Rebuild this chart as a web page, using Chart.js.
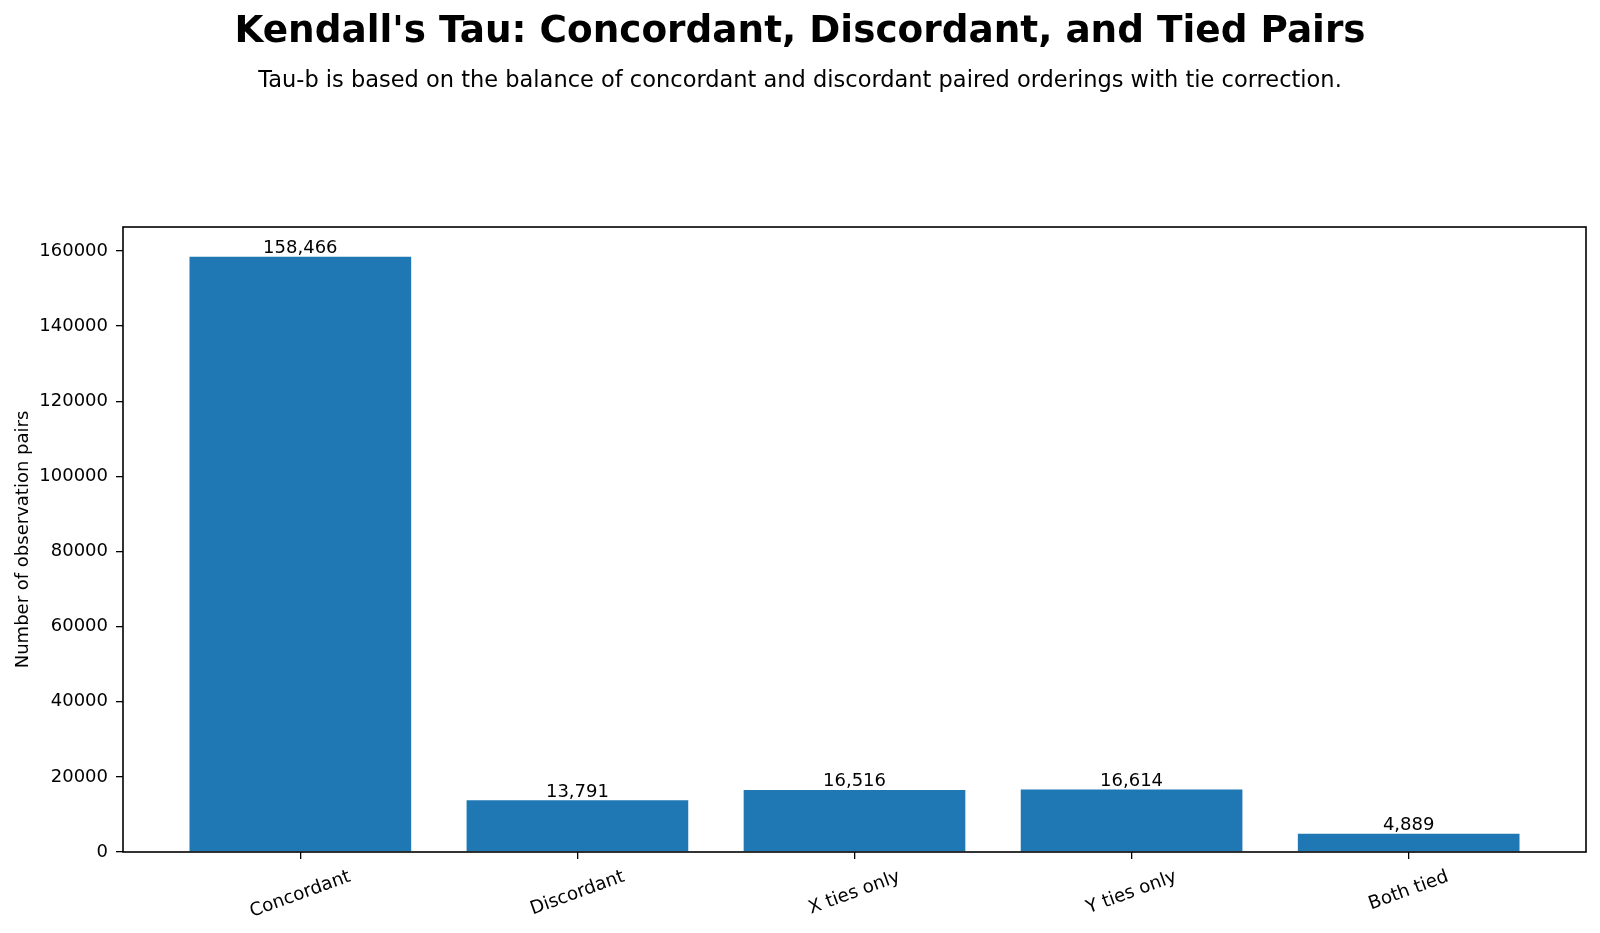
<!DOCTYPE html>
<html>
<head>
<meta charset="utf-8">
<script src="https://cdn.jsdelivr.net/npm/chart.js@4/dist/chart.umd.min.js"></script>
<style>
  html, body { margin: 0; padding: 0; background: #fff; }
  #wrap { width: 1600px; height: 933px; }
</style>
</head>
<body>
<div id="wrap"><canvas id="tauChart" width="1600" height="933"></canvas></div>
<script>
// data
const categories = ['Concordant', 'Discordant', 'X ties only', 'Y ties only', 'Both tied'];
const pairCounts = [158466, 13791, 16516, 16614, 4889];
const yTickValues = [0, 20000, 40000, 60000, 80000, 100000, 120000, 140000, 160000];

const titleText = "Kendall's Tau: Concordant, Discordant, and Tied Pairs";
const subtitleText = 'Tau-b is based on the balance of concordant and discordant paired orderings with tie correction.';
const yLabel = 'Number of observation pairs';

const FONT = "'DejaVu Sans', sans-serif";
const BAR_COLOR = '#1f77b4';

// matplotlib-like margins on the x range
const xMin = -0.4 - 0.05 * (categories.length - 1 + 0.8);
const xMax = categories.length - 1 + 0.4 + 0.05 * (categories.length - 1 + 0.8);

const decorPlugin = {
    id: 'decor',
    afterDraw(chart) {
        const ctx = chart.ctx;
        const area = chart.chartArea;
        const xs = chart.scales.x;
        ctx.save();
        ctx.fillStyle = '#000';

        // titles
        ctx.textAlign = 'center';
        ctx.textBaseline = 'alphabetic';
        ctx.font = 'bold 37.4px ' + FONT;
        ctx.fillText(titleText, 800, 42);
        ctx.font = '22.5px ' + FONT;
        ctx.fillText(subtitleText, 800, 87);

        // y axis label
        ctx.save();
        ctx.translate(28, (area.top + area.bottom) / 2);
        ctx.rotate(-Math.PI / 2);
        ctx.font = '18px ' + FONT;
        ctx.fillText(yLabel, 0, 0);
        ctx.restore();

        // rotated category labels
        const theta = 20 * Math.PI / 180;
        ctx.font = '18.3px ' + FONT;
        categories.forEach((label, i) => {
            const w = ctx.measureText(label).width;
            const cx = xs.getPixelForValue(i);
            const cy = area.bottom + 16 + (w * Math.sin(theta) + 18 * Math.cos(theta)) / 2;
            ctx.save();
            ctx.translate(cx, cy);
            ctx.rotate(-theta);
            ctx.textAlign = 'left';
            ctx.fillText(label, -w / 2, 4.7);
            ctx.restore();
        });

        // value labels on bars
        ctx.font = '18px ' + FONT;
        ctx.textAlign = 'center';
        const meta = chart.getDatasetMeta(0);
        meta.data.forEach((bar, i) => {
            ctx.fillText(pairCounts[i].toLocaleString('en-US'), bar.x, bar.y - 3.5);
        });

        // frame
        ctx.strokeStyle = '#000';
        ctx.lineWidth = 1.6;
        ctx.strokeRect(area.left, area.top, area.right - area.left, area.bottom - area.top);
        ctx.restore();
    }
};

const ctx = document.getElementById('tauChart').getContext('2d');
new Chart(ctx, {
    type: 'bar',
    data: {
        datasets: [{
            data: categories.map((c, i) => ({ x: i, y: pairCounts[i] })),
            backgroundColor: BAR_COLOR,
            borderWidth: 0,
            barPercentage: 0.8,
            categoryPercentage: 1.0
        }]
    },
    options: {
        responsive: false,
        animation: false,
        events: [],
        layout: { padding: { top: 227, right: 14, bottom: 0, left: 0 } },
        plugins: {
            legend: { display: false },
            tooltip: { enabled: false }
        },
        scales: {
            x: {
                type: 'linear',
                offset: false,
                min: xMin,
                max: xMax,
                afterBuildTicks(scale) {
                    scale.ticks = categories.map((c, i) => ({ value: i }));
                },
                afterFit(scale) { scale.height = 81; },
                ticks: { display: false },
                grid: {
                    offset: false,
                    drawOnChartArea: false,
                    drawTicks: true,
                    tickLength: 7,
                    color: '#000',
                    lineWidth: 1.3
                },
                border: { display: false }
            },
            y: {
                min: 0,
                max: Math.max(...pairCounts) * 1.05,
                afterBuildTicks(scale) {
                    scale.ticks = yTickValues.map(v => ({ value: v }));
                },
                afterFit(scale) { scale.width = 123; },
                ticks: {
                    color: '#000',
                    padding: 8,
                    font: { family: FONT, size: 18 },
                    callback: v => String(v)
                },
                grid: {
                    drawOnChartArea: false,
                    drawTicks: true,
                    tickLength: 7,
                    color: '#000',
                    lineWidth: 1.3
                },
                border: { display: false }
            }
        }
    },
    plugins: [decorPlugin]
});
</script>
</body>
</html>
